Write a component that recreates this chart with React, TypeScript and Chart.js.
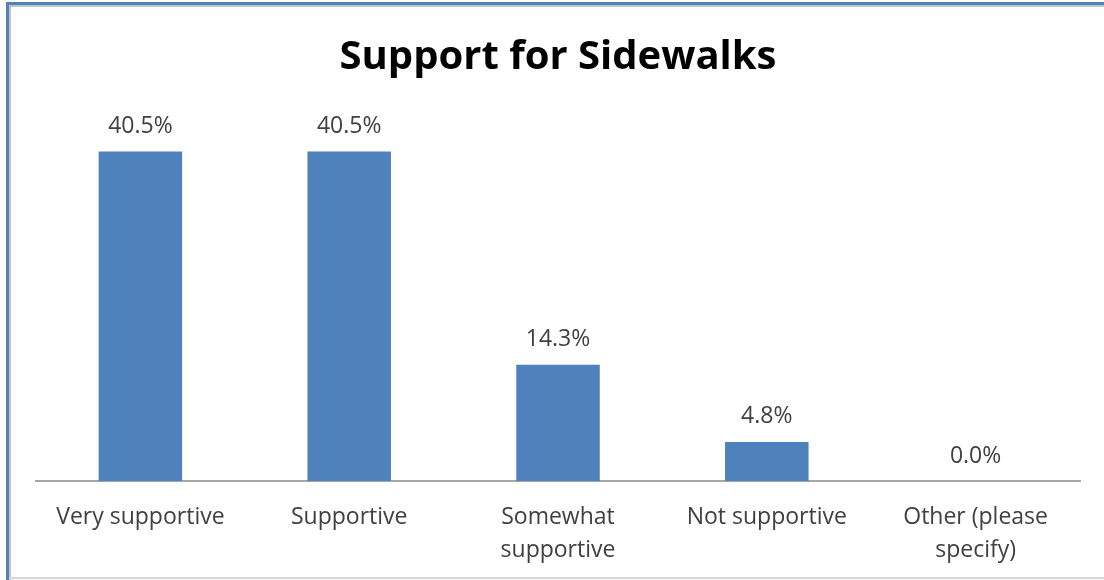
import React, { useEffect, useRef } from "react";
import { Chart, registerables } from "chart.js";

Chart.register(...registerables);

const titleText = "Support for Sidewalks";
const categories: string[][] = [
  ["Very supportive"],
  ["Supportive"],
  ["Somewhat", "supportive"],
  ["Not supportive"],
  ["Other (please", "specify)"],
];
const values = [40.5, 40.5, 14.3, 4.8, 0.0];
const valueLabels = ["40.5%", "40.5%", "14.3%", "4.8%", "0.0%"];
const yMax = 45;

const FONT = "'Open Sans', 'DejaVu Sans', sans-serif";

const dataLabelPlugin = {
  id: "barValueLabels",
  afterDatasetsDraw(chart: any) {
    const ctx = chart.ctx;
    const meta = chart.getDatasetMeta(0);
    ctx.save();
    ctx.font = `23px ${FONT}`;
    ctx.fillStyle = "#404040";
    ctx.textAlign = "center";
    ctx.textBaseline = "middle";
    meta.data.forEach((bar: any, i: number) => {
      ctx.fillText(valueLabels[i], bar.x, bar.y - 25);
    });
    ctx.restore();
  },
};

export default function App() {
  const canvasRef = useRef<HTMLCanvasElement | null>(null);

  useEffect(() => {
    if (!canvasRef.current) return;
    const chart = new Chart(canvasRef.current, {
      type: "bar",
      data: {
        labels: categories,
        datasets: [
          {
            data: values,
            backgroundColor: "#4F81BD",
            borderWidth: 0,
            barPercentage: 0.4,
            categoryPercentage: 1.0,
          },
        ],
      },
      options: {
        responsive: false,
        animation: false,
        devicePixelRatio: 1,
        layout: { padding: { left: 36, right: 24, top: 0, bottom: 13 } },
        plugins: {
          legend: { display: false },
          tooltip: { enabled: false },
          title: {
            display: true,
            text: titleText,
            color: "#000000",
            font: { family: FONT, size: 40, weight: "bold", lineHeight: 1.2 },
            padding: { top: 34, bottom: 33 },
          },
        },
        scales: {
          x: {
            grid: { display: false, drawTicks: false },
            border: { display: true, color: "#A6A6A6", width: 2 },
            ticks: {
              color: "#404040",
              font: { family: FONT, size: 23, lineHeight: 1.435 },
              padding: 20,
              maxRotation: 0,
              minRotation: 0,
              autoSkip: false,
            },
          },
          y: {
            display: false,
            min: 0,
            max: yMax,
          },
        },
      },
      plugins: [dataLabelPlugin],
    });
    return () => chart.destroy();
  }, []);

  return (
    <div
      style={{
        position: "absolute",
        left: 0,
        top: 0,
        width: 1104,
        height: 580,
        background: "#ffffff",
        overflow: "hidden",
      }}
    >
      <div style={{ position: "absolute", left: 6, top: 2, width: 1098, height: 3, background: "#4F81BD" }} />
      <div style={{ position: "absolute", left: 9, top: 5, width: 1095, height: 2, background: "#C4C4C4" }} />
      <div style={{ position: "absolute", left: 6, top: 2, width: 3, height: 578, background: "#4F81BD" }} />
      <div style={{ position: "absolute", left: 9, top: 5, width: 2, height: 575, background: "#C4C4C4" }} />
      <div style={{ position: "absolute", left: 9, top: 577, width: 1095, height: 2, background: "#D6D6D6" }} />
      <canvas
        ref={canvasRef}
        width={1104}
        height={600}
        style={{ position: "absolute", left: 0, top: 0, width: 1104, height: 600 }}
      />
    </div>
  );
}
